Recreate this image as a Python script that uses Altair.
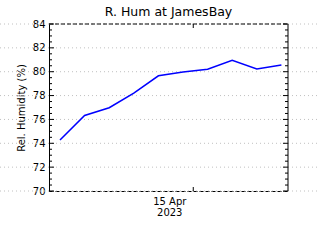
import altair as alt
import pandas as pd

# ---- data ----
dates = [
    "2023-04-09T14:00:00Z", "2023-04-10T14:00:00Z", "2023-04-11T14:00:00Z",
    "2023-04-12T14:00:00Z", "2023-04-13T14:00:00Z", "2023-04-14T14:00:00Z",
    "2023-04-15T14:00:00Z", "2023-04-16T14:00:00Z", "2023-04-17T14:00:00Z",
    "2023-04-18T14:00:00Z",
]
rel_hum = [74.28, 76.33, 76.98, 78.2, 79.66, 79.97, 80.2, 80.95, 80.23, 80.56]

y_major = [70, 72, 74, 76, 78, 80, 82, 84]
y_minor = [v / 2 for v in range(140, 169) if v % 4 != 0]
x_tick = ["2023-04-15T00:00:00Z"]
x_tick_label = "['15 Apr', '2023']"

W, H = 239, 167
FONT = "DejaVu Sans"

df = pd.DataFrame({"t": dates, "rh": rel_hum})

yscale = alt.Scale(domain=[70, 84], nice=False, zero=False)
xscale = alt.Scale(
    type="utc",
    domain=[
        alt.DateTime(year=2023, month=4, date=9, hours=3, minutes=16, utc=True),
        alt.DateTime(year=2023, month=4, date=18, hours=20, minutes=26, utc=True),
    ],
    nice=False,
)
yaxis = alt.Axis(
    values=y_major, ticks=False, grid=False, domain=True, domainColor="black",
    labelPadding=4, title="Rel. Humidity (%)", titlePadding=6,
)
xaxis = alt.Axis(
    values=[alt.DateTime(year=2023, month=4, date=15, utc=True)],
    labelExpr=x_tick_label, labelOffset=-24, labelPadding=5, labelLineHeight=11,
    ticks=False, grid=False, domain=True, domainColor="black",
    domainDash=[4, 2], title=None,
)

Y = lambda f: alt.Y(f, scale=yscale, axis=yaxis)
X = lambda f: alt.X(f, scale=xscale, axis=xaxis)

grid = alt.Chart(pd.DataFrame({"v": y_major})).mark_rule(
    color="#c0c0c0", strokeDash=[1, 3], strokeWidth=1
).encode(y=Y("v:Q"), x=alt.value(-49), x2=alt.value(W + 32))

line = alt.Chart(df).mark_line(color="#0000ff", strokeWidth=1.5).encode(
    x=X("t:T"), y=Y("rh:Q")
)

one = pd.DataFrame({"a": [0]})
top_border = alt.Chart(one).mark_rule(color="black", strokeDash=[4, 2]).encode(
    x=alt.value(0), x2=alt.value(W), y=alt.value(0)
)
right_border = alt.Chart(one).mark_rule(color="black").encode(
    x=alt.value(W), y=alt.value(0), y2=alt.value(H)
)

maj = pd.DataFrame({"v": y_major})
mnr = pd.DataFrame({"v": y_minor})
lt_major = alt.Chart(maj).mark_rule(color="black").encode(
    y=Y("v:Q"), x=alt.value(0), x2=alt.value(5))
lt_minor = alt.Chart(mnr).mark_rule(color="black").encode(
    y=Y("v:Q"), x=alt.value(0), x2=alt.value(3))
rt_major = alt.Chart(maj).mark_rule(color="black").encode(
    y=Y("v:Q"), x=alt.value(W - 5), x2=alt.value(W))
rt_minor = alt.Chart(mnr).mark_rule(color="black").encode(
    y=Y("v:Q"), x=alt.value(W - 3), x2=alt.value(W))

xt = pd.DataFrame({"t": x_tick})
bot_tick = alt.Chart(xt).mark_rule(color="black").encode(
    x=X("t:T"), y=alt.value(H - 4), y2=alt.value(H))
top_tick = alt.Chart(xt).mark_rule(color="black").encode(
    x=X("t:T"), y=alt.value(0), y2=alt.value(4))

chart = alt.layer(
    grid, line, top_border, right_border,
    lt_major, lt_minor, rt_major, rt_minor, bot_tick, top_tick,
).properties(
    width=W, height=H,
    title=alt.Title("R. Hum at JamesBay", font=FONT, fontSize=12.5,
                    fontWeight="normal", color="black", anchor="middle", offset=1),
    autosize=alt.AutoSizeParams(type="none"),
    padding={"left": 49, "top": 24, "right": 32, "bottom": 49},
    background="white",
).configure_view(stroke=None).configure_axis(
    labelFont=FONT, labelFontSize=10, labelColor="black",
    titleFont=FONT, titleFontSize=10, titleFontWeight="normal", titleColor="black",
)

chart.save("out.html", embed_options={"renderer": "svg", "actions": False})
